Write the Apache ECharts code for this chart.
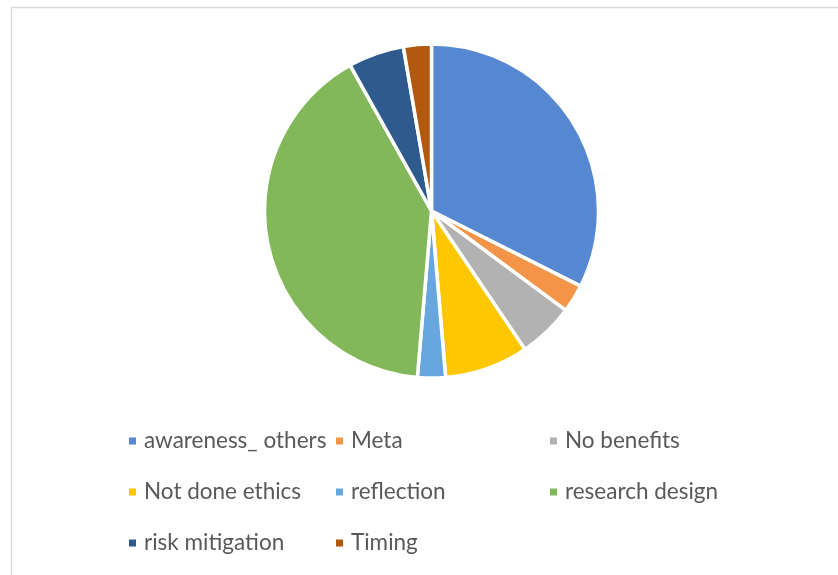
<!DOCTYPE html>
<html>
<head>
<meta charset="utf-8">
<script src="https://cdn.jsdelivr.net/npm/echarts@6/dist/echarts.min.js"></script>
<style>
  html, body { margin: 0; padding: 0; background: #fff; }
  #chart { width: 838px; height: 575px; }
</style>
</head>
<body>
<div id="chart"></div>
<script>
// Response categories and their counts
const categories = ['awareness_ others', 'Meta', 'No benefits', 'Not done ethics', 'reflection', 'research design', 'risk mitigation', 'Timing'];
const counts = [12, 1, 2, 3, 1, 15, 2, 1];
const colors = ['#5687D1', '#F39447', '#B2B2B2', '#FFC700', '#67A7DD', '#82B85A', '#2F5A8E', '#B0590F'];

// Legend laid out in three columns
const legendColumns = [
  ['awareness_ others', 'Not done ethics', 'risk mitigation'],
  ['Meta', 'reflection', 'Timing'],
  ['No benefits', 'research design']
];
const legendLeft = [127, 334, 548];

const chart = echarts.init(document.getElementById('chart'), null, { renderer: 'canvas' });

const legends = legendColumns.map((col, i) => ({
  data: col,
  orient: 'vertical',
  left: legendLeft[i],
  top: 429,
  padding: 0,
  icon: 'rect',
  itemWidth: 9,
  itemHeight: 9,
  itemGap: 27,
  selectedMode: false,
  textStyle: {
    fontFamily: 'Lato',
    fontSize: 22.5,
    lineHeight: 24,
    color: '#595959',
    padding: [0, 0, 0, 2]
  }
}));

chart.setOption({
  animation: false,
  color: colors,
  graphic: [{
    type: 'rect',
    shape: { x: 11.5, y: 7.5, width: 900, height: 700 },
    style: { fill: 'none', stroke: '#d9d9d9', lineWidth: 1.5 },
    silent: true
  }],
  legend: legends,
  series: [{
    type: 'pie',
    center: [431.5, 211],
    radius: 167,
    startAngle: 90,
    clockwise: true,
    label: { show: false },
    labelLine: { show: false },
    emphasis: { disabled: true },
    itemStyle: { borderColor: '#ffffff', borderWidth: 3.5 },
    data: categories.map((name, i) => ({ name: name, value: counts[i] }))
  }]
});
</script>
</body>
</html>
